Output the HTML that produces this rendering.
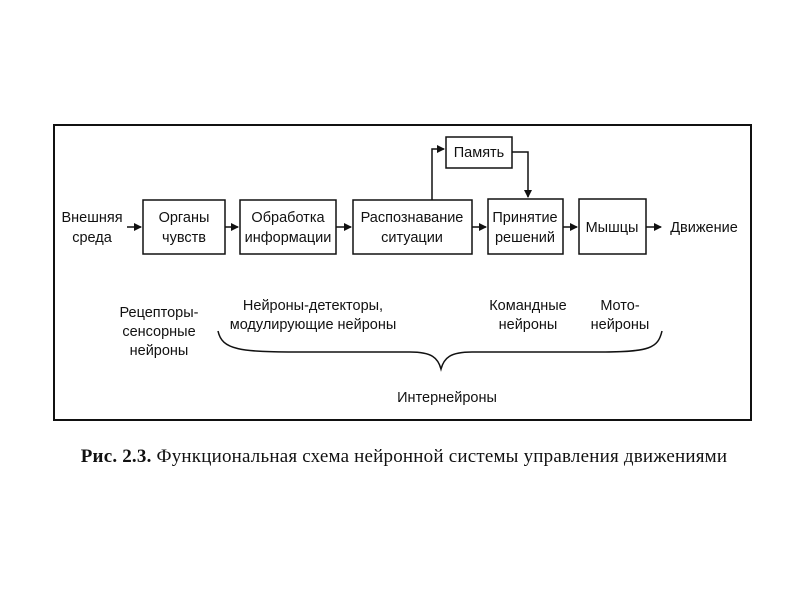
<!DOCTYPE html>
<html><head><meta charset="utf-8"><style>
body{margin:0;background:#fff}
svg text{font-family:"Liberation Sans",sans-serif;font-size:14.5px;fill:#111}
</style></head><body>
<svg width="800" height="600" viewBox="0 0 800 600">
<defs><marker id="a" markerWidth="8" markerHeight="8" refX="7" refY="4" orient="auto" markerUnits="userSpaceOnUse"><path d="M0,0 L8,4 L0,8z" fill="#111"/></marker></defs>
<rect x="54" y="125" width="697" height="295" fill="none" stroke="#111" stroke-width="2"/>
<g fill="none" stroke="#111" stroke-width="1.5">
<rect x="143" y="200" width="82" height="54"/>
<rect x="240" y="200" width="96" height="54"/>
<rect x="353" y="200" width="119" height="54"/>
<rect x="446" y="137" width="66" height="31"/>
<rect x="488" y="199" width="75" height="55"/>
<rect x="579" y="199" width="67" height="55"/>
<path d="M127,227 H141" marker-end="url(#a)"/>
<path d="M225,227 H238" marker-end="url(#a)"/>
<path d="M336,227 H351" marker-end="url(#a)"/>
<path d="M472,227 H486" marker-end="url(#a)"/>
<path d="M563,227 H577" marker-end="url(#a)"/>
<path d="M646,227 H661" marker-end="url(#a)"/>
<path d="M432,200 V149 H444" marker-end="url(#a)"/>
<path d="M512,152 H528 V197" marker-end="url(#a)"/>
<path d="M218,331 C222,350 240,352 300,352 L410,352 C432,352 438,358 441,369 C444,358 450,352 472,352 L600,352 C650,352 658,348 662,331"/>
</g>
<g text-anchor="middle">
<text x="92" y="222">Внешняя</text><text x="92" y="242">среда</text>
<text x="184" y="222">Органы</text><text x="184" y="242">чувств</text>
<text x="288" y="222">Обработка</text><text x="288" y="242">информации</text>
<text x="412" y="222">Распознавание</text><text x="412" y="242">ситуации</text>
<text x="479" y="157">Память</text>
<text x="525" y="222">Принятие</text><text x="525" y="242">решений</text>
<text x="612" y="232">Мышцы</text>
<text x="704" y="232">Движение</text>
<text x="159" y="317">Рецепторы-</text><text x="159" y="336">сенсорные</text><text x="159" y="355">нейроны</text>
<text x="313" y="310">Нейроны-детекторы,</text><text x="313" y="329">модулирующие нейроны</text>
<text x="528" y="310">Командные</text><text x="528" y="329">нейроны</text>
<text x="620" y="310">Мото-</text><text x="620" y="329">нейроны</text>
<text x="447" y="402">Интернейроны</text>
<text x="404" y="462" style="font-family:'Liberation Serif',serif;font-size:19px;letter-spacing:0.2px"><tspan font-weight="bold">Рис. 2.3.</tspan> Функциональная схема нейронной системы управления движениями</text>
</g>
</svg>
</body></html>
